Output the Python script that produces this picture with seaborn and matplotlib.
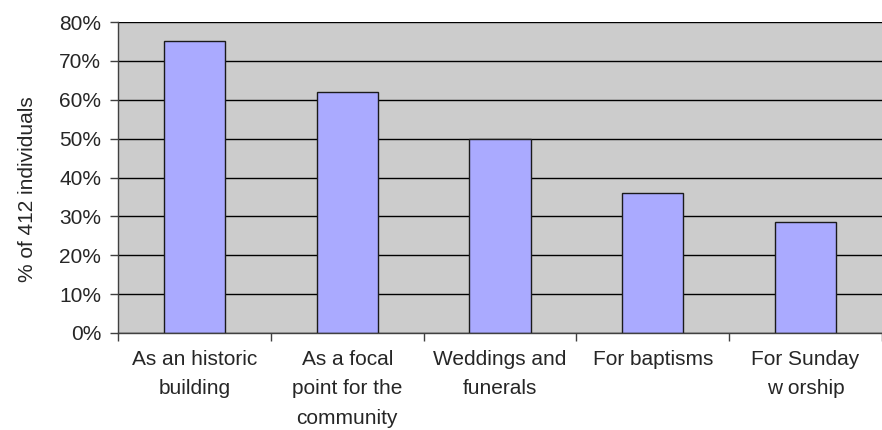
import matplotlib
matplotlib.use("Agg")
import matplotlib.pyplot as plt
from matplotlib.ticker import PercentFormatter, FixedLocator
import seaborn as sns

# reasons for valuing the parish church (% of respondents)
categories = ["As an historic\nbuilding",
              "As a focal\npoint for the\ncommunity",
              "Weddings and\nfunerals",
              "For baptisms",
              "For Sunday\nw orship"]
values = [75, 62, 50, 36, 28.5]
y_ticks = [0, 10, 20, 30, 40, 50, 60, 70, 80]

sns.set_style("white")
plt.rcParams["font.family"] = ["Liberation Sans", "DejaVu Sans"]

fig = plt.figure(figsize=(8.82, 4.30), dpi=100)
ax = fig.add_axes([118 / 882, 97 / 430, 764 / 882, 311 / 430])
ax.set_facecolor("#CCCCCC")

sns.barplot(x=categories, y=values, color="#AAAAFF", saturation=1,
            width=0.4, edgecolor="#1a1a1a", linewidth=1, ax=ax)

ax.set_axisbelow(True)
ax.set_ylim(0, 80)
ax.set_xlim(-0.5, 4.43)
ax.yaxis.set_major_locator(FixedLocator(y_ticks))
ax.yaxis.set_major_formatter(PercentFormatter(100, decimals=0))
ax.yaxis.grid(True, color="black", linewidth=1)

# category labels at the centres, tick marks at the boundaries
ax.set_xticks(range(len(categories)))
ax.set_xticklabels(categories, linespacing=1.7)
ax.set_xticks([i - 0.5 for i in range(len(categories) + 1)], minor=True)
ax.tick_params(axis="x", which="major", length=0, pad=12, labelsize=15)
ax.tick_params(axis="x", which="minor", length=6, width=1, color="#404040",
               direction="out", bottom=True)
ax.tick_params(axis="y", length=6, width=1, color="#404040", direction="out",
               left=True, pad=6, labelsize=15)

for side in ["top", "right"]:
    ax.spines[side].set_visible(False)
for side in ["left", "bottom"]:
    ax.spines[side].set_color("#404040")
    ax.spines[side].set_linewidth(1)

ax.set_ylabel("% of 412 individuals", fontsize=15)
ax.yaxis.set_label_coords(-0.106, 0.463)
ax.set_xlabel("")

fig.savefig("out.png", dpi=100)
